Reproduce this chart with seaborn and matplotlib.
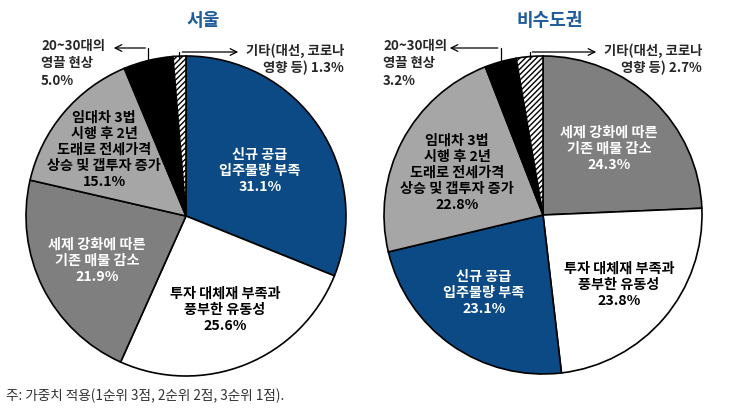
import numpy as np
import matplotlib

matplotlib.use("Agg")
import matplotlib.pyplot as plt
import seaborn as sns

sns.set_theme(style="white")
plt.rcParams["font.family"] = ["Noto Sans CJK KR", "DejaVu Sans"]

# data (clockwise from 12 o'clock)
seoul_labels = ["신규 공급\n입주물량 부족", "투자 대체재 부족과\n풍부한 유동성",
                "세제 강화에 따른\n기존 매물 감소",
                "임대차 3법\n시행 후 2년\n도래로 전세가격\n상승 및 갭투자 증가",
                "20~30대의\n영끌 현상", "기타(대선, 코로나\n영향 등)"]
seoul_values = [31.1, 25.6, 21.9, 15.1, 5.0, 1.3]
seoul_kinds = ["supply", "invest", "tax", "lease", "young", "etc"]

region_labels = ["세제 강화에 따른\n기존 매물 감소", "투자 대체재 부족과\n풍부한 유동성",
                 "신규 공급\n입주물량 부족",
                 "임대차 3법\n시행 후 2년\n도래로 전세가격\n상승 및 갭투자 증가",
                 "20~30대의\n영끌 현상", "기타(대선, 코로나\n영향 등)"]
region_values = [24.3, 23.8, 23.1, 22.8, 3.2, 2.7]
region_kinds = ["tax", "invest", "supply", "lease", "young", "etc"]

titles = ["서울", "비수도권"]

# styles
BLUE = "#0b4a84"
kind_color = {"supply": BLUE, "invest": "white", "tax": "#7f7f7f",
              "lease": "#a6a6a6", "young": "black", "etc": "white"}
kind_text = {"supply": "white", "invest": "black", "tax": "white",
             "lease": "black", "young": "black", "etc": "black"}

W, H = 736, 408
fig = plt.figure(figsize=(W / 100, H / 100), dpi=100)
ax = fig.add_axes([0, 0, 1, 1])
ax.axis("off")


def py(y):
    # pixel row -> data y
    return H - y


def draw_pie(cx, cy, r, values, kinds, labels, inner_pos, title_pos,
             title, young_pos, etc_pos):
    colors = [kind_color[k] for k in kinds]
    wedges, _ = ax.pie(values, colors=colors, startangle=90, counterclock=False,
                       center=(cx, py(cy)), radius=r, frame=True,
                       wedgeprops=dict(edgecolor="black", linewidth=1.2))
    for w, k in zip(wedges, kinds):
        if k == "etc":
            w.set_hatch("//////")
    # inside labels
    for lab, v, k, pos in zip(labels, values, kinds, inner_pos):
        if pos is None:
            continue
        ax.text(pos[0], py(pos[1]), f"{lab}\n{v:.1f}%", ha="center", va="center",
                color=kind_text[k], fontsize=10.2, fontweight="bold",
                linespacing=1.18)
    # leader annotations for the small slices
    cum = np.cumsum([0] + list(values))
    total = cum[-1]
    for idx, k in enumerate(kinds):
        if k not in ("young", "etc"):
            continue
        mid = (cum[idx] + cum[idx + 1]) / 2 / total * 2 * np.pi
        x0 = cx + r * np.sin(mid)
        y0 = cy - r * np.cos(mid)
        if k == "young":
            lab = f"{labels[idx]}\n{values[idx]:.1f}%"
            ytop = 48
            xend, tx = young_pos
            ax.plot([x0, x0], [py(y0 + 4), py(ytop)], color="black", lw=0.9)
            ax.annotate("", xy=(xend, py(ytop)), xytext=(x0, py(ytop)),
                        arrowprops=dict(arrowstyle="->", lw=0.9, color="black"))
            ax.text(tx, py(ytop - 9), lab, ha="left", va="top", fontsize=9.6,
                    fontweight="bold", linespacing=1.3)
        else:
            lab = f"{labels[idx]} {values[idx]:.1f}%"
            ytop = 52
            xend, tx = etc_pos
            ax.plot([x0, x0], [py(y0 + 2), py(ytop)], color="black", lw=0.9)
            ax.annotate("", xy=(xend, py(ytop)), xytext=(x0, py(ytop)),
                        arrowprops=dict(arrowstyle="->", lw=0.9, color="black"))
            ax.text(tx, py(ytop - 9), lab, ha="right", va="top", fontsize=9.6,
                    fontweight="bold", linespacing=1.3)
    ax.text(title_pos[0], py(title_pos[1]), title, ha="center", va="center",
            fontsize=13, fontweight="bold", color="#1f5c99")


draw_pie(186, 216, 160, seoul_values, seoul_kinds, seoul_labels,
         [(260, 171), (225, 310), (97, 261), (104, 150), None, None],
         (203, 20), titles[0], young_pos=(111, 41), etc_pos=(241, 344))

draw_pie(543, 215, 159, region_values, region_kinds, region_labels,
         [(609, 149), (619, 285), (484, 293), (457, 173), None, None],
         (550, 20), titles[1], young_pos=(447, 383), etc_pos=(599, 702))

ax.set_xlim(0, W)
ax.set_ylim(0, H)
ax.set_aspect("equal")

ax.text(6, py(396), "주: 가중치 적용(1순위 3점, 2순위 2점, 3순위 1점).",
        ha="left", va="center", fontsize=9.8, color="#333333")

fig.savefig("out.png", dpi=100)
